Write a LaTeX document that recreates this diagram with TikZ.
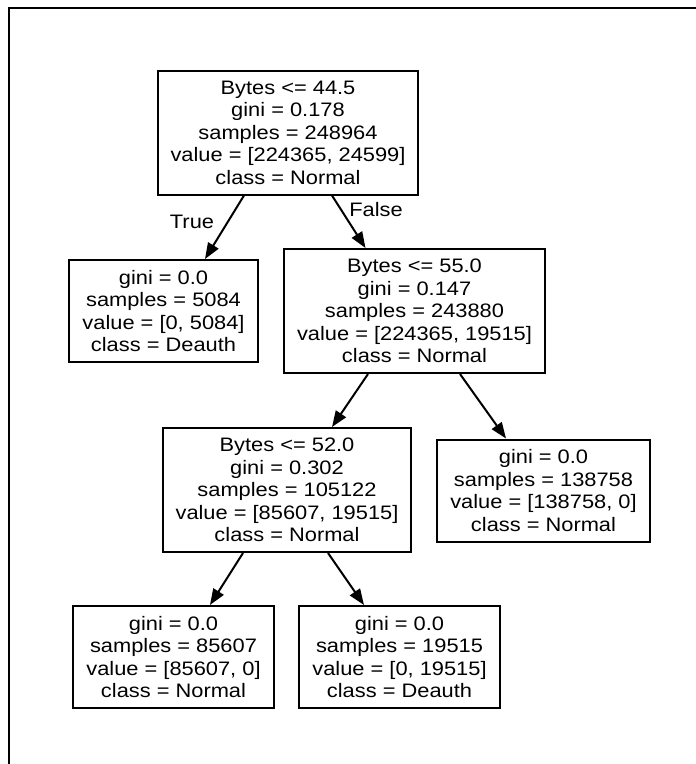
\documentclass[tikz,border=0pt]{standalone}
\usepackage{fontspec}
\setmainfont{Liberation Sans}[FakeStretch=1.12]
\usetikzlibrary{arrows.meta}
\tikzset{
  split/.style={draw, line width=2pt, align=center, inner xsep=13pt, inner ysep=0pt, minimum height=124pt, font=\fontsize{19.5}{22.5}\selectfont},
  leaf/.style={split, minimum height=102pt},
  edge/.style={-{Triangle[length=16pt,width=12pt]}, line width=2pt},
  lbl/.style={font=\fontsize{19.5}{22.5}\selectfont, inner sep=0pt},
}
\begin{document}
\begin{tikzpicture}[x=1pt, y=-1pt]
  \useasboundingbox (0,0) rectangle (696,764);
  \draw[line width=2.2pt] (9,764) -- (9,8) -- (696,8);

  \node[split] (root) at (288,132.5) {Bytes <= 44.5\\gini = 0.178\\samples = 248964\\value = [224365, 24599]\\class = Normal};
  \node[leaf] (lfa) at (163.5,311) {gini = 0.0\\samples = 5084\\value = [0, 5084]\\class = Deauth};
  \node[split] (b55) at (414.5,311) {Bytes <= 55.0\\gini = 0.147\\samples = 243880\\value = [224365, 19515]\\class = Normal};
  \node[split] (b52) at (287,490) {Bytes <= 52.0\\gini = 0.302\\samples = 105122\\value = [85607, 19515]\\class = Normal};
  \node[leaf] (lfb) at (543.5,490.5) {gini = 0.0\\samples = 138758\\value = [138758, 0]\\class = Normal};
  \node[leaf] (lfc) at (173.5,657) {gini = 0.0\\samples = 85607\\value = [85607, 0]\\class = Normal};
  \node[leaf] (lfd) at (399.5,657) {gini = 0.0\\samples = 19515\\value = [0, 19515]\\class = Deauth};

  \draw[edge] ([xshift=-44pt]root.south) -- ([xshift=41.5pt]lfa.north);
  \draw[edge] ([xshift=44pt]root.south) -- ([xshift=-49pt]b55.north);
  \draw[edge] ([xshift=-46.5pt]b55.south) -- ([xshift=45pt]b52.north);
  \draw[edge] ([xshift=45.5pt]b55.south) -- ([xshift=-37.5pt]lfb.north);
  \draw[edge] ([xshift=-44pt]b52.south) -- ([xshift=36.5pt]lfc.north);
  \draw[edge] ([xshift=41pt]b52.south) -- ([xshift=-35.5pt]lfd.north);

  \node[lbl] (ltrue) at (192,222) {True};
  \node[lbl] (lfalse) at (376,210) {False};
\end{tikzpicture}
\end{document}
